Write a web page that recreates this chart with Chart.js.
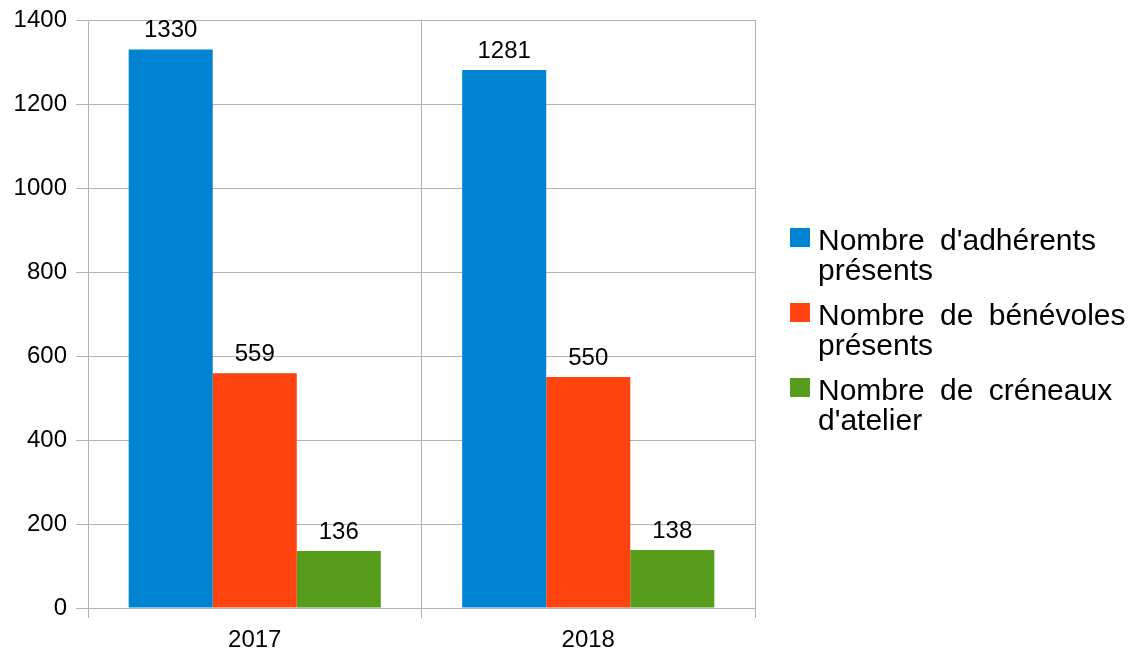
<!DOCTYPE html>
<html>
<head>
<meta charset="utf-8">
<script src="https://cdn.jsdelivr.net/npm/chart.js@4"></script>
<style>
    body { margin: 0; background: #fff; }
    #wrap { position: relative; width: 1135px; height: 655px; }
    #legend { position: absolute; left: 790px; top: 225px; font-family: "Liberation Sans", Arial, sans-serif; font-size: 30px; word-spacing: 7px; color: #000; }
    .item { display: flex; align-items: flex-start; margin-bottom: 15px; line-height: 30px; }
    .box { width: 20px; height: 19px; margin-top: 3px; margin-right: 8px; flex: none; }
</style>
</head>
<body>
<div id="wrap">
    <canvas id="chart" width="1135" height="655"></canvas>
    <div id="legend"></div>
</div>
<script>
const years = ["2017", "2018"];
const seriesNames = [["Nombre d'adhérents", "présents"], ["Nombre de bénévoles", "présents"], ["Nombre de créneaux", "d'atelier"]];
const adherents = [1330, 1281];
const benevoles = [559, 550];
const creneaux = [136, 138];
const colors = ["#0084d1", "#ff420e", "#579d1c"];
const yTicks = [0, 200, 400, 600, 800, 1000, 1200, 1400];

const font = "Liberation Sans";

// valeurs au-dessus des barres
const valueLabels = {
    id: "valueLabels",
    afterDatasetsDraw(chart) {
        const ctx = chart.ctx;
        ctx.save();
        ctx.font = "24px " + font;
        ctx.fillStyle = "#000";
        ctx.textAlign = "center";
        ctx.textBaseline = "alphabetic";
        chart.data.datasets.forEach((ds, i) => {
            chart.getDatasetMeta(i).data.forEach((bar, j) => {
                ctx.fillText(ds.data[j], bar.x, bar.y - 12);
            });
        });
        ctx.restore();
    }
};

const allSeries = [adherents, benevoles, creneaux];

new Chart(document.getElementById("chart"), {
    type: "bar",
    data: {
        labels: years,
        datasets: allSeries.map((data, i) => ({
            label: seriesNames[i].join(" "),
            data: data,
            backgroundColor: colors[i],
            borderWidth: 0,
            categoryPercentage: 0.756,
            barPercentage: 1
        }))
    },
    options: {
        responsive: false,
        animation: false,
        layout: { padding: { top: 20, right: 380, left: 0, bottom: 0 } },
        plugins: {
            legend: { display: false },
            tooltip: { enabled: false }
        },
        scales: {
            x: {
                grid: { color: "#b3b3b3", tickLength: 10, offset: true },
                border: { color: "#b3b3b3" },
                ticks: { font: { family: font, size: 24 }, color: "#000", padding: 8 },
                afterFit(scale) { scale.height = 47; }
            },
            y: {
                min: 0,
                max: 1400,
                afterBuildTicks(scale) { scale.ticks = yTicks.map(v => ({ value: v })); },
                grid: { color: "#b3b3b3", tickLength: 12 },
                border: { color: "#b3b3b3" },
                ticks: { font: { family: font, size: 24, lineHeight: 0.8 }, color: "#000", padding: 9, callback: v => String(v) },
                afterFit(scale) { scale.width = 88; }
            }
        }
    },
    plugins: [valueLabels]
});

// légende à droite, texte sur deux lignes
const legend = document.getElementById("legend");
seriesNames.forEach((lines, i) => {
    const item = document.createElement("div");
    item.className = "item";
    item.innerHTML = `<div class="box" style="background:${colors[i]}"></div><div>${lines.join("<br>")}</div>`;
    legend.appendChild(item);
});
</script>
</body>
</html>
